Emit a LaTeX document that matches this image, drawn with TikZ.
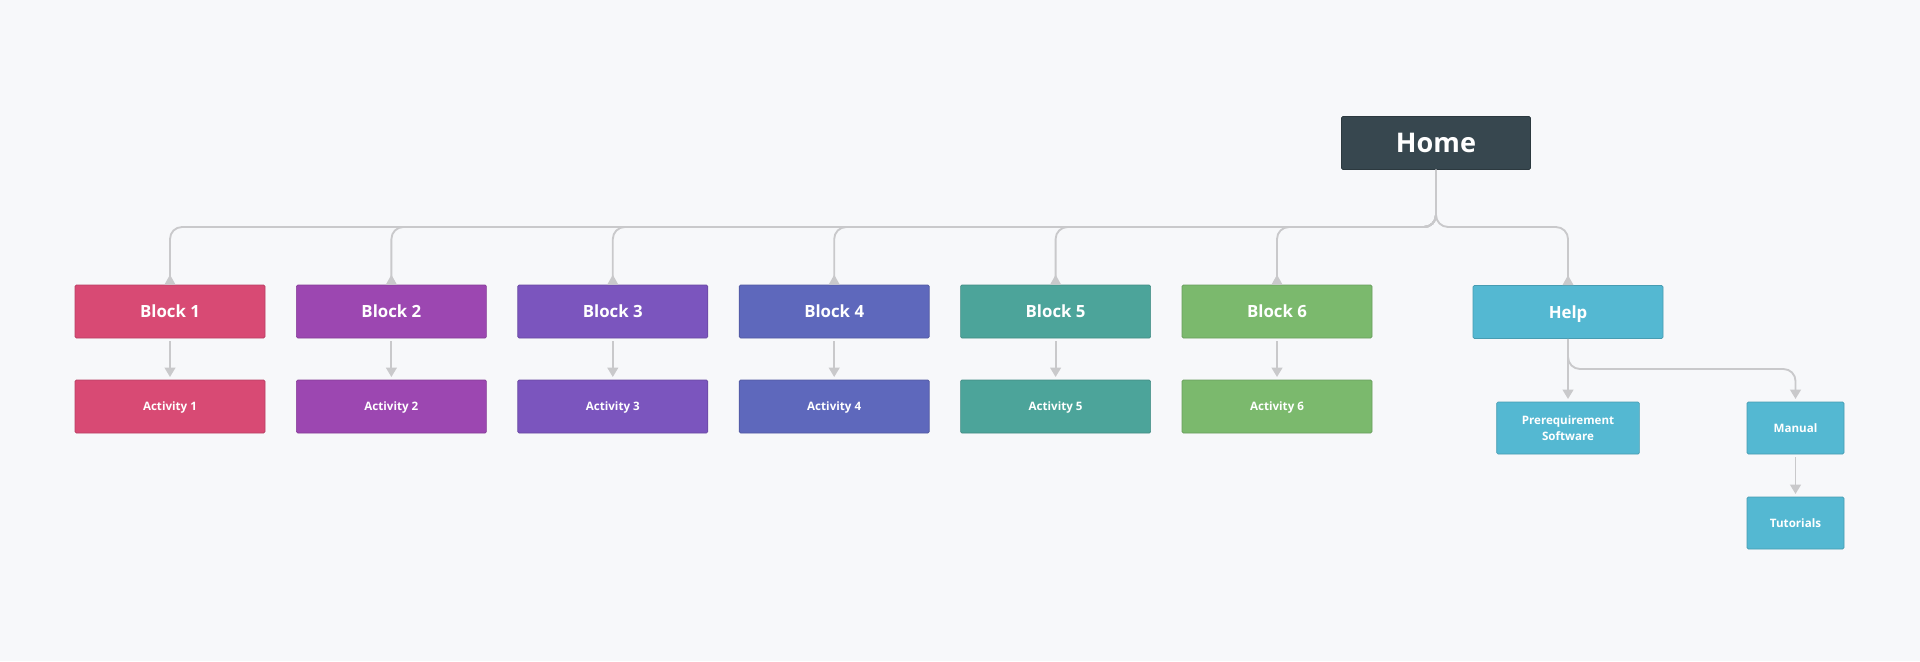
\documentclass[tikz,border=0pt]{standalone}
\usepackage{fontspec}
\setmainfont{Open Sans}
\usetikzlibrary{arrows.meta}
\definecolor{bgcol}{HTML}{F7F8FA}
\definecolor{linecol}{HTML}{C9C9CB}
\definecolor{homecol}{HTML}{37474F}
\definecolor{pinkcol}{HTML}{D84A74}
\definecolor{purplecol}{HTML}{9C47B1}
\definecolor{violetcol}{HTML}{7B55BE}
\definecolor{indigocol}{HTML}{5E68BC}
\definecolor{tealcol}{HTML}{4CA49A}
\definecolor{greencol}{HTML}{7BB96D}
\definecolor{helpcol}{HTML}{54B8D2}
\begin{document}
\begin{tikzpicture}[x=0.75pt, y=-0.75pt,
    every node/.style = {shape=rectangle, draw, align=center, text=white,
      inner sep=0pt, rounded corners=1pt, line width=0.5pt, text depth=0pt},
    block/.style = {fill=#1, draw=#1!85!black, minimum width=142.5pt, minimum height=39.75pt,
      font=\fontsize{12.6}{15}\selectfont\bfseries},
    activity/.style = {fill=#1, draw=#1!85!black, minimum width=142.5pt, minimum height=39.75pt,
      font=\fontsize{8.7}{11.8}\selectfont\bfseries},
    conn/.style = {draw=linecol, line width=1.4pt, rounded corners=9pt},
    up/.style = {-{Triangle[reversed, width=8pt, length=7.5pt]}},
    down/.style = {-{Triangle[width=8pt, length=7pt]}, shorten >=2pt, shorten <=2pt}]
  \fill[bgcol] (0,0) rectangle (1920,661);
  \node[fill=homecol, draw=homecol!80!black, minimum width=141.75pt, minimum height=39.75pt,
    font=\fontsize{20.3}{24}\selectfont\bfseries] (home) at (1436,143) {Home};
  % blocks
  \node[block=pinkcol]   (b1) at (170,311.5)    {Block 1};
  \node[block=purplecol] (b2) at (391.4,311.5)  {Block 2};
  \node[block=violetcol] (b3) at (612.8,311.5)  {Block 3};
  \node[block=indigocol] (b4) at (834.2,311.5)  {Block 4};
  \node[block=tealcol]   (b5) at (1055.6,311.5) {Block 5};
  \node[block=greencol]  (b6) at (1277,311.5)   {Block 6};
  \node[block=helpcol]   (help) at (1568,312)   {Help};
  % activities
  \node[activity=pinkcol]   (a1) at (170,406.5)    {Activity 1};
  \node[activity=purplecol] (a2) at (391.4,406.5)  {Activity 2};
  \node[activity=violetcol] (a3) at (612.8,406.5)  {Activity 3};
  \node[activity=indigocol] (a4) at (834.2,406.5)  {Activity 4};
  \node[activity=tealcol]   (a5) at (1055.6,406.5) {Activity 5};
  \node[activity=greencol]  (a6) at (1277,406.5)   {Activity 6};
  \node[activity=helpcol, minimum width=107pt, minimum height=39pt] (prereq) at (1568,428) {Prerequirement\\Software};
  \node[activity=helpcol, minimum width=72.75pt, minimum height=39pt] (manual) at (1795.5,428) {Manual};
  \node[activity=helpcol, minimum width=72.75pt, minimum height=39pt] (tutorials) at (1795.5,523) {Tutorials};
  % connectors
  \coordinate (bus) at (0,227);
  \coordinate (helpbus) at (0,369);
  \foreach \b in {b1,b2,b3,b4,b5,b6,help}
    \draw[conn, up] (home.south) -- (home.south |- bus) -- (\b.north |- bus) -- (\b.north);
  \foreach \b/\a in {b1/a1,b2/a2,b3/a3,b4/a4,b5/a5,b6/a6,help/prereq,manual/tutorials}
    \draw[conn, down] (\b.south) -- (\a.north);
  \draw[conn, down, shorten <=0pt] (help.south) -- (help.south |- helpbus) -- (manual.north |- helpbus) -- (manual.north);
\end{tikzpicture}
\end{document}
